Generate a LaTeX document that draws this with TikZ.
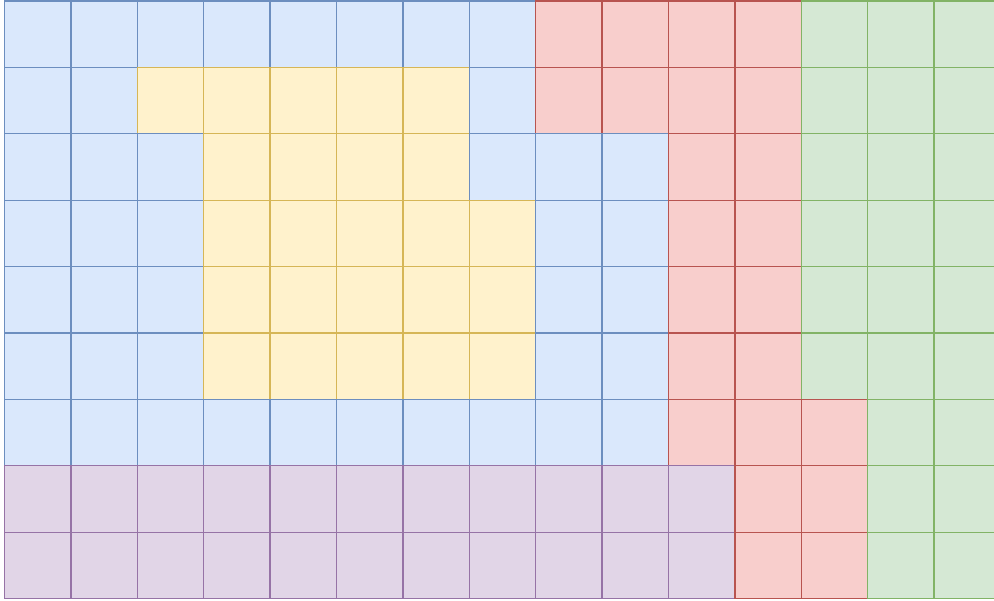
\documentclass[tikz,border=0pt]{standalone}
\definecolor{bfill}{HTML}{DAE8FC}\definecolor{bdraw}{HTML}{6C8EBF}
\definecolor{yfill}{HTML}{FFF2CC}\definecolor{ydraw}{HTML}{D6B656}
\definecolor{rfill}{HTML}{F8CECC}\definecolor{rdraw}{HTML}{B85450}
\definecolor{gfill}{HTML}{D5E8D4}\definecolor{gdraw}{HTML}{82B366}
\definecolor{pfill}{HTML}{E1D5E7}\definecolor{pdraw}{HTML}{9673A6}
\tikzset{
  cb/.style={fill=bfill,draw=bdraw},
  cy/.style={fill=yfill,draw=ydraw},
  cr/.style={fill=rfill,draw=rdraw},
  cg/.style={fill=gfill,draw=gdraw},
  cp/.style={fill=pfill,draw=pdraw},
}
\newcommand\cellrow[2]{%
  \foreach \c [count=\i from 0] in {#2} {
    \path[\c] ({4.5+66.4*\i},{1+66.4*#1}) rectangle ++(66.4,66.4);
  }%
}
\begin{document}
\begin{tikzpicture}[x=1pt,y=-1pt,line width=1.3pt]
\useasboundingbox (0,0) rectangle (994,601);
\clip (0,0) rectangle (994,601);
\cellrow{0}{cb,cb,cb,cb,cb,cb,cb,cb,cr,cr,cr,cr,cg,cg,cg}
\cellrow{1}{cb,cb,cy,cy,cy,cy,cy,cb,cr,cr,cr,cr,cg,cg,cg}
\cellrow{2}{cb,cb,cb,cy,cy,cy,cy,cb,cb,cb,cr,cr,cg,cg,cg}
\cellrow{3}{cb,cb,cb,cy,cy,cy,cy,cy,cb,cb,cr,cr,cg,cg,cg}
\cellrow{4}{cb,cb,cb,cy,cy,cy,cy,cy,cb,cb,cr,cr,cg,cg,cg}
\cellrow{5}{cb,cb,cb,cy,cy,cy,cy,cy,cb,cb,cr,cr,cg,cg,cg}
\cellrow{6}{cb,cb,cb,cb,cb,cb,cb,cb,cb,cb,cr,cr,cr,cg,cg}
\cellrow{7}{cp,cp,cp,cp,cp,cp,cp,cp,cp,cp,cp,cr,cr,cg,cg}
\cellrow{8}{cp,cp,cp,cp,cp,cp,cp,cp,cp,cp,cp,cr,cr,cg,cg}
\end{tikzpicture}
\end{document}
